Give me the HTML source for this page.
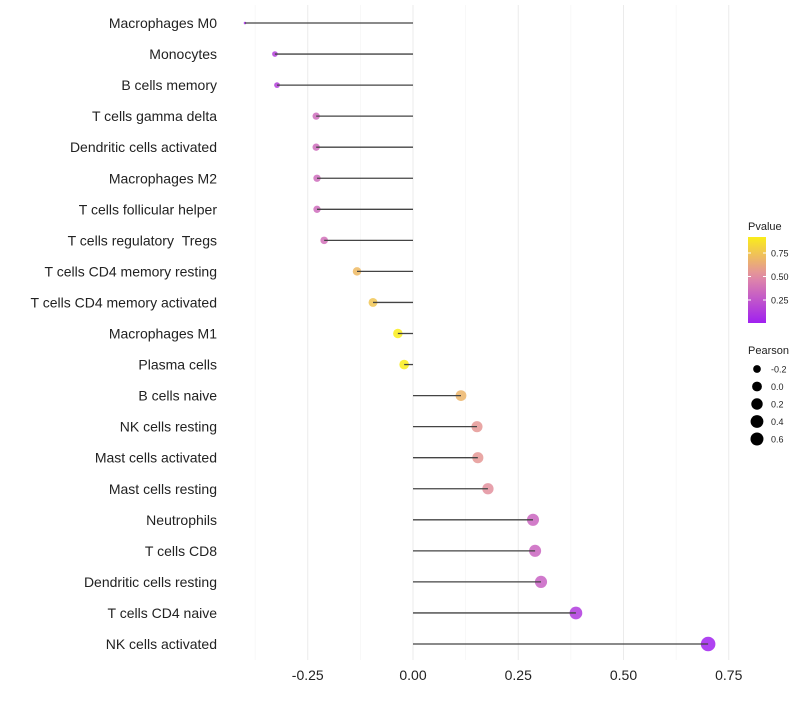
<!DOCTYPE html>
<html><head><meta charset="utf-8"><style>
body{margin:0;background:#fff;font-family:"Liberation Sans",sans-serif}
</style></head><body>
<svg id="chart" width="800" height="700" xmlns="http://www.w3.org/2000/svg"></svg>
<script>
const categories=["Macrophages M0","Monocytes","B cells memory","T cells gamma delta","Dendritic cells activated","Macrophages M2","T cells follicular helper","T cells regulatory\u00a0\u00a0Tregs","T cells CD4 memory resting","T cells CD4 memory activated","Macrophages M1","Plasma cells","B cells naive","NK cells resting","Mast cells activated","Mast cells resting","Neutrophils","T cells CD8","Dendritic cells resting","T cells CD4 naive","NK cells activated"];
const pearson=[-0.399,-0.328,-0.323,-0.230,-0.230,-0.228,-0.228,-0.211,-0.133,-0.095,-0.036,-0.021,0.114,0.152,0.154,0.178,0.285,0.290,0.304,0.387,0.701];
const pvalue=[0.05,0.15,0.15,0.35,0.35,0.35,0.35,0.37,0.70,0.75,0.92,0.92,0.68,0.55,0.55,0.52,0.32,0.32,0.30,0.12,0.01];
const xTicks=[-0.25,0,0.25,0.5,0.75];
const xTickLabels=["-0.25","0.00","0.25","0.50","0.75"];
const colorTicks=[0.25,0.5,0.75];
const sizeTicks=[-0.2,0,0.2,0.4,0.6];

const svg=document.getElementById('chart');
const NS="http://www.w3.org/2000/svg";
function mk(t,a,p){const e=document.createElementNS(NS,t);for(const k in a)e.setAttribute(k,a[k]);(p||svg).appendChild(e);return e;}
const x=v=>413+v*421;
const y=i=>23+i*31.05;
const pMin=Math.min(...pearson),pMax=Math.max(...pearson);
const rS=v=>{const t=Math.max(0,(v-pMin)/(pMax-pMin));return 1.3+6*Math.sqrt(t);};
function lerp(a,b,t){return a.map((c,i)=>Math.round(c+(b[i]-c)*t));}
function col(p){const s=[[160,32,240],[226,140,165],[255,255,0]];let c=p<0.5?lerp(s[0],s[1],p/0.5):lerp(s[1],s[2],(p-0.5)/0.5);return `rgb(${c})`;}

for(let v=-0.375;v<=0.8;v+=0.125){
  const major=Math.abs(Math.round(v*4)-v*4)<1e-6;
  const g=mk('line',{x1:x(v),x2:x(v),y1:5,y2:660,stroke:major?'#ebebeb':'#f3f3f3','stroke-width':major?1:0.6});
  
}
xTicks.forEach((v,i)=>{
  const t=mk('text',{x:x(v),y:680,'text-anchor':'middle','font-size':14,fill:'#222'});t.textContent=xTickLabels[i];
  
});
categories.forEach((c,i)=>{
  const t=mk('text',{x:217,y:y(i)+5,'text-anchor':'end','font-size':14,fill:'#222'});t.textContent=c;
  
  const cir=mk('circle',{cx:x(pearson[i]),cy:y(i),r:rS(pearson[i]),fill:col(pvalue[i]),'fill-opacity':0.85});
  
  const l=mk('line',{x1:x(0),x2:x(pearson[i]),y1:y(i),y2:y(i),stroke:'#444','stroke-width':1.3});
  
});
const lt=mk('text',{x:748,y:230,'font-size':11,fill:'#222'});lt.textContent='Pvalue';

const defs=mk('defs',{});const gr=mk('linearGradient',{id:'pg',x1:0,y1:1,x2:0,y2:0},defs);
for(let k=0;k<=10;k++)mk('stop',{offset:k/10,'stop-color':col(k/10*0.92)},gr);
const cb=mk('rect',{x:748,y:237,width:18,height:86,fill:'url(#pg)'});

const cy=p=>323.5-p*94;
colorTicks.forEach(p=>{
  mk('line',{x1:748,x2:751,y1:cy(p),y2:cy(p),stroke:'#fff'});mk('line',{x1:763,x2:766,y1:cy(p),y2:cy(p),stroke:'#fff'});
  const t=mk('text',{x:771,y:cy(p)+3.5,'font-size':9,fill:'#222'});t.textContent=p.toFixed(2);
  
});
const st=mk('text',{x:748,y:354,'font-size':11,fill:'#222'});st.textContent='Pearson';

sizeTicks.forEach((v,i)=>{
  const yy=369+i*17.5;
  const c=mk('circle',{cx:757,cy:yy,r:Math.min(rS(v),6.5),fill:'#000'});
  
  const t=mk('text',{x:771,y:yy+3.5,'font-size':9,fill:'#222'});t.textContent=v.toFixed(1);
  
});
</script>
</body></html>
